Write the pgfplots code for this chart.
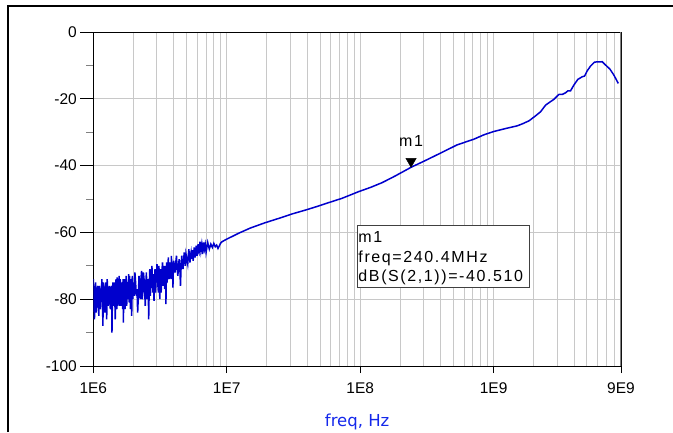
\documentclass[border=0pt]{standalone}
\usepackage{fontspec}
\setmainfont{Liberation Sans}
\newfontfamily\adsfont{Liberation Sans}[LetterSpace=10]
\newfontfamily\labelfont{DejaVu Sans}
\usepackage{pgfplots}
\usepackage{pgfplotstable}
\pgfplotsset{compat=1.18}

\definecolor{trace}{RGB}{0,0,205}
\definecolor{gridgray}{RGB}{200,200,200}
\definecolor{labelblue}{RGB}{20,40,235}

% dB(S(2,1)) against frequency in Hz
\pgfplotstableread{
f       dB
1.00e6  -74
1.01e6  -80
1.02e6  -86
1.03e6  -78
1.04e6  -75
1.05e6  -84
1.06e6  -82
1.07e6  -77
1.08e6  -76
1.09e6  -81
1.10e6  -85
1.11e6  -76
1.12e6  -77
1.13e6  -83
1.14e6  -80
1.15e6  -78
1.16e6  -74
1.17e6  -79
1.18e6  -88
1.19e6  -75
1.20e6  -78
1.21e6  -81
1.22e6  -84
1.23e6  -77
1.24e6  -75
1.25e6  -80
1.26e6  -86
1.27e6  -74
1.28e6  -77
1.29e6  -82
1.30e6  -81
1.31e6  -79
1.32e6  -76
1.33e6  -77
1.34e6  -83
1.35e6  -81
1.36e6  -78
1.37e6  -76
1.38e6  -90
1.39e6  -80
1.40e6  -75
1.41e6  -78
1.42e6  -82
1.43e6  -75
1.44e6  -77
1.45e6  -80
1.46e6  -86
1.47e6  -78
1.48e6  -74
1.49e6  -81
1.50e6  -83
1.51e6  -73.5
1.52e6  -76
1.53e6  -82
1.54e6  -79
1.55e6  -77
1.56e6  -73
1.57e6  -79
1.58e6  -82
1.59e6  -74
1.60e6  -76
1.61e6  -78
1.62e6  -80
1.63e6  -82
1.64e6  -75
1.65e6  -77
1.66e6  -83
1.67e6  -74
1.68e6  -87
1.69e6  -79
1.70e6  -74
1.71e6  -77
1.72e6  -80
1.73e6  -83
1.74e6  -76
1.75e6  -78
1.76e6  -73
1.77e6  -80
1.78e6  -82
1.79e6  -75
1.80e6  -75
1.81e6  -80
1.82e6  -78
1.83e6  -76
1.84e6  -72.5
1.85e6  -78
1.86e6  -81
1.87e6  -73
1.88e6  -76
1.89e6  -79
1.90e6  -83
1.91e6  -77
1.92e6  -74
1.93e6  -80
1.94e6  -85
1.95e6  -76
1.96e6  -73
1.97e6  -78
1.98e6  -80
1.99e6  -77
2.00e6  -75
2.025e6 -79
2.05e6  -72
2.075e6 -75
2.10e6  -79
2.125e6 -77
2.15e6  -84
2.175e6 -79
2.20e6  -73
2.225e6 -76
2.25e6  -80
2.275e6 -74
2.30e6  -71.5
2.325e6 -80
2.35e6  -78
2.375e6 -72
2.40e6  -74
2.425e6 -77
2.45e6  -82
2.475e6 -75
2.50e6  -72
2.525e6 -80
2.55e6  -77
2.575e6 -74
2.60e6  -86
2.625e6 -76
2.65e6  -71
2.675e6 -79
2.70e6  -76
2.725e6 -73
2.75e6  -70
2.775e6 -75
2.80e6  -78
2.825e6 -72.5
2.85e6  -80.5
2.875e6 -76
2.90e6  -71
2.925e6 -78
2.95e6  -75
2.975e6 -73
3.00e6  -69.5
3.025e6 -72
3.05e6  -76
3.075e6 -78
3.10e6  -70
3.125e6 -73
3.15e6  -80
3.175e6 -75
3.20e6  -71
3.225e6 -78
3.25e6  -74
3.275e6 -71
3.30e6  -69
3.325e6 -76
3.35e6  -75
3.375e6 -72
3.40e6  -70
3.425e6 -77
3.45e6  -73
3.475e6 -70
3.50e6  -81.5
3.525e6 -74
3.55e6  -69
3.575e6 -75
3.60e6  -72
3.625e6 -70
3.65e6  -67.5
3.675e6 -71
3.70e6  -74
3.725e6 -73
3.75e6  -69
3.775e6 -70
3.80e6  -72.5
3.825e6 -74
3.85e6  -67
3.875e6 -72
3.90e6  -71
3.925e6 -69
3.95e6  -76.5
3.975e6 -72
4.00e6  -68.5
4.05e6  -70
4.10e6  -72
4.15e6  -69
4.20e6  -67
4.25e6  -71
4.30e6  -73
4.35e6  -70
4.40e6  -68
4.45e6  -70.5
4.50e6  -76
4.55e6  -70
4.60e6  -67
4.65e6  -69.5
4.70e6  -71
4.75e6  -68.5
4.80e6  -66
4.85e6  -68
4.90e6  -70
4.95e6  -66.5
5.00e6  -67.5
5.05e6  -68.5
5.10e6  -69.5
5.15e6  -67
5.20e6  -65
5.25e6  -67.5
5.30e6  -69
5.35e6  -67
5.40e6  -66
5.45e6  -68
5.50e6  -65.3
5.55e6  -66.5
5.60e6  -68.5
5.65e6  -66.5
5.70e6  -64.5
5.75e6  -66
5.80e6  -67.5
5.85e6  -65.5
5.90e6  -64
5.95e6  -65.5
6.00e6  -67
6.05e6  -65
6.10e6  -63.5
6.15e6  -65.5
6.20e6  -66
6.25e6  -64.5
6.30e6  -62.8
6.35e6  -64
6.40e6  -65.5
6.45e6  -64.5
6.50e6  -63.5
6.55e6  -64.8
6.60e6  -66.5
6.65e6  -64.5
6.70e6  -63
6.75e6  -64.2
6.80e6  -65
6.85e6  -64.2
6.90e6  -63.5
6.95e6  -64.5
7.00e6  -66
7.20e6  -63
7.40e6  -65
7.60e6  -63.5
7.80e6  -64.5
8.00e6  -63.3
8.20e6  -64.3
8.40e6  -63.8
8.60e6  -64.8
8.80e6  -64
9.00e6  -63.2
9.20e6  -62.8
9.50e6  -62.5
1.00e7  -62.0
1.10e7  -61.2
1.22e7  -60.3
1.50e7  -58.7
1.94e7  -57.1
2.50e7  -55.7
3.07e7  -54.5
3.90e7  -53.3
4.87e7  -52.1
6.00e7  -50.9
7.30e7  -49.8
9.73e7  -47.8
1.20e8  -46.5
1.46e8  -45.1
1.83e8  -43.1
2.404e8 -40.51
3.07e8  -38.5
3.98e8  -36.3
5.32e8  -33.8
7.10e8  -32.1
8.43e8  -30.8
1.00e9  -29.8
1.26e9  -28.8
1.50e9  -28.1
1.64e9  -27.5
1.84e9  -26.6
2.06e9  -25.1
2.244e9 -23.9
2.45e9  -21.9
2.59e9  -21.2
2.82e9  -20.2
3.08e9  -18.7
3.26e9  -18.7
3.46e9  -18.2
3.60e9  -17.6
3.77e9  -17.6
3.99e9  -15.9
4.27e9  -14.2
4.61e9  -13.4
4.80e9  -13.2
5.03e9  -11.6
5.32e9  -10.2
5.70e9  -9.0
6.51e9  -8.9
6.90e9  -9.9
7.43e9  -11.1
7.96e9  -12.9
8.59e9  -15.4
}\sparam

\begin{document}
\begin{tikzpicture}
\begin{axis}[
    at={(93.3pt,66pt)}, anchor=south west,
    scale only axis,
    width=527.7pt, height=334pt,
    xmode=log,
    xmin=1e6, xmax=9e9,
    ymin=-100, ymax=0,
    xtick={1e6,1e7,1e8,1e9,9e9},
    xticklabels={1E6,1E7,1E8,1E9,9E9},
    minor xtick={2e6,3e6,4e6,5e6,6e6,7e6,8e6,9e6,
                 2e7,3e7,4e7,5e7,6e7,7e7,8e7,9e7,
                 2e8,3e8,4e8,5e8,6e8,7e8,8e8,9e8,
                 2e9,3e9,4e9,5e9,6e9,7e9,8e9},
    ytick={-100,-80,-60,-40,-20,0},
    yticklabels={-100,-80,-60,-40,-20,0},
    extra y ticks={-90,-70,-50,-30,-10},
    extra y tick labels={},
    extra y tick style={grid=none, major tick length=7pt,
        tick style={gray, line width=1pt}},
    tick pos=left,
    tick align=outside,
    major tick length=13pt,
    minor tick length=0pt,
    xtick style={/pgfplots/major tick length=7pt},
    tick style={black, line width=0.8pt},
    xmajorgrids, xminorgrids, ymajorgrids,
    major grid style={gridgray, line width=1pt},
    minor grid style={gridgray, line width=1pt},
    axis line style={black, line width=1pt},
    tick label style={font=\fontsize{15.5}{18}\selectfont},
    xlabel={freq, Hz},
    xlabel style={at={(rel axis cs:0.5,0)}, anchor=north, yshift=-48pt,
        inner sep=0pt, text=labelblue, font=\labelfont\fontsize{16.5}{19}\selectfont},
]
\addplot[trace, line width=1.5pt] table[x=f, y=dB] {\sparam};

% marker m1
\addplot[only marks, mark=triangle*, mark size=6pt,
    mark options={yshift=6pt, rotate=180, fill=black, draw=black},
    nodes near coords={m1},
    every node near coord/.style={anchor=south, inner sep=0pt, yshift=14.5pt,
        font=\adsfont\fontsize{16}{19}\selectfont}]
    coordinates {(2.404e8,-40.51)};

\draw[gray, line width=1.5pt] (rel axis cs:1,0) -- (rel axis cs:1,1);

\node[draw=black!75, fill=white, line width=0.8pt, inner sep=0pt,
    minimum width=172pt, minimum height=62pt, anchor=north west]
    (mbox) at (rel axis cs:0.4997,0.422) {};
\node[anchor=north west, inner sep=0pt, align=left,
    font=\adsfont\fontsize{16}{19.5}\selectfont]
    at ([xshift=1.3pt, yshift=-6.7pt]mbox.north west)
    {m1\\freq=240.4MHz\\dB(S(2,1))=-40.510};
\end{axis}

\draw[line width=2pt] (8pt,0pt) -- (8pt,426pt) -- (673pt,426pt);
\pgfresetboundingbox
\path (0pt,0pt) rectangle (673pt,432pt);
\end{tikzpicture}
\end{document}
